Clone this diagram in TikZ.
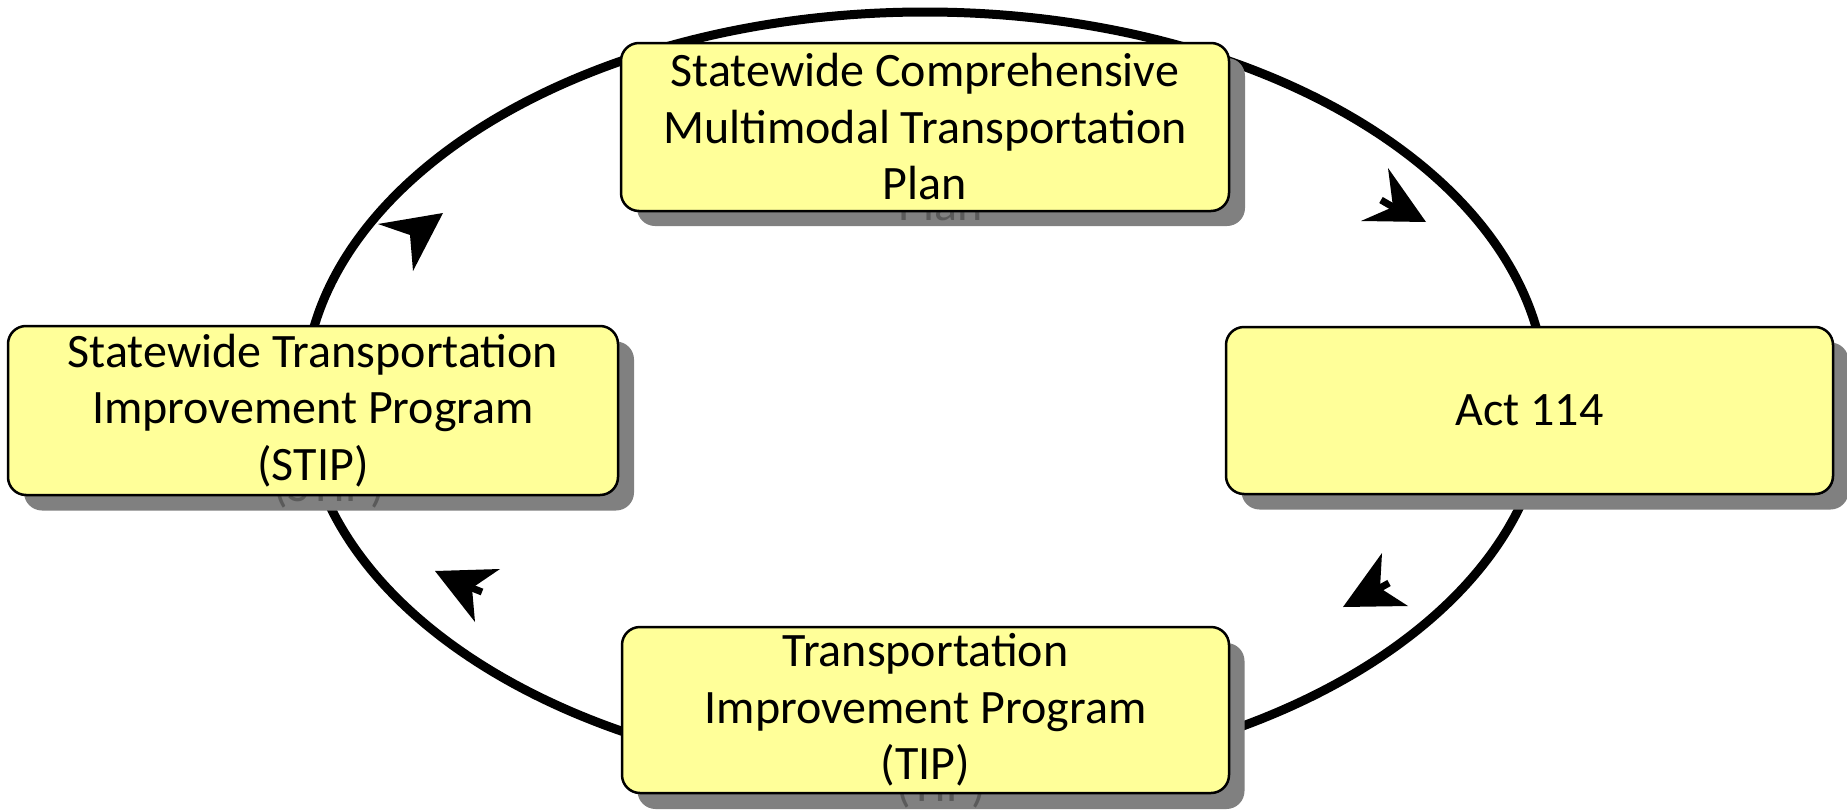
\documentclass[tikz,border=0pt]{standalone}
\usepackage{fontspec}
\setmainfont{Carlito}
\definecolor{boxyellow}{HTML}{FFFF99}
\definecolor{shadowgray}{HTML}{808080}
\definecolor{shadowtext}{HTML}{5A5A5A}
\begin{document}
\begin{tikzpicture}[x=1pt,y=-1pt,
  stagefont/.style={font=\fontsize{48}{56.5}\selectfont},
  stagebox/.style={draw=black, line width=2.5pt, fill=boxyellow,
    rounded corners=18pt, align=center, inner sep=0pt, stagefont},
  stageshadow/.style={fill=shadowgray, draw=none,
    rounded corners=18pt, inner sep=0pt},
  shadowlabel/.style={align=center, inner sep=0pt, text=shadowtext, stagefont},
  ring/.style={line width=9pt},
  headstub/.style={line width=7pt}]
\useasboundingbox (0,0) rectangle (1847,811);

% the cycle ring behind the boxes
\draw[ring] (925,396) ellipse [x radius=621pt, y radius=384pt];

% drop shadows with their faded text
\node[stageshadow, minimum width=608pt, minimum height=168pt] (plansh) at (941,142) {};
\node[shadowlabel] (plansht) at (941,148)
  {Statewide Comprehensive\\Multimodal Transportation\\Plan};
\node[stageshadow, minimum width=607pt, minimum height=167pt] (actsh) at (1545,426) {};
\node[stageshadow, minimum width=607pt, minimum height=166pt] (tipsh) at (941,726) {};
\node[shadowlabel] (tipsht) at (941,732)
  {Transportation\\Improvement Program\\(TIP)};
\node[stageshadow, minimum width=610pt, minimum height=169pt] (stipsh) at (329,426) {};
\node[shadowlabel] (stipsht) at (329,432)
  {Statewide Transportation\\Improvement Program\\(STIP)};

% stage boxes
\node[stagebox, minimum width=608pt, minimum height=168pt] (plan) at (925,127)
  {Statewide Comprehensive\\Multimodal Transportation\\Plan};
\node[stagebox, minimum width=607pt, minimum height=167pt] (act) at (1529.5,410.5) {Act 114};
\node[stagebox, minimum width=607pt, minimum height=166pt] (tip) at (925.5,710)
  {Transportation\\Improvement Program\\(TIP)};
\node[stagebox, minimum width=610pt, minimum height=169pt] (stip) at (313,410.5)
  {Statewide Transportation\\Improvement Program\\(STIP)};

% arrowheads along the ring (clockwise)
\fill (1426,222) -- (1388,168) -- (1393,207) -- (1361,221) -- cycle;
\draw[headstub] (1393,207) -- (1381,200);
\fill (1343,607) -- (1408,606) -- (1380,588) -- (1382,553) -- cycle;
\draw[headstub] (1380,588) -- (1389,583);
\fill (435,571) -- (500,569) -- (472,588) -- (475,622) -- cycle;
\draw[headstub] (472,588) -- (482,592);
\fill (443,213) -- (378,224) -- (410,235) -- (413,271) -- cycle;
\end{tikzpicture}
\end{document}
